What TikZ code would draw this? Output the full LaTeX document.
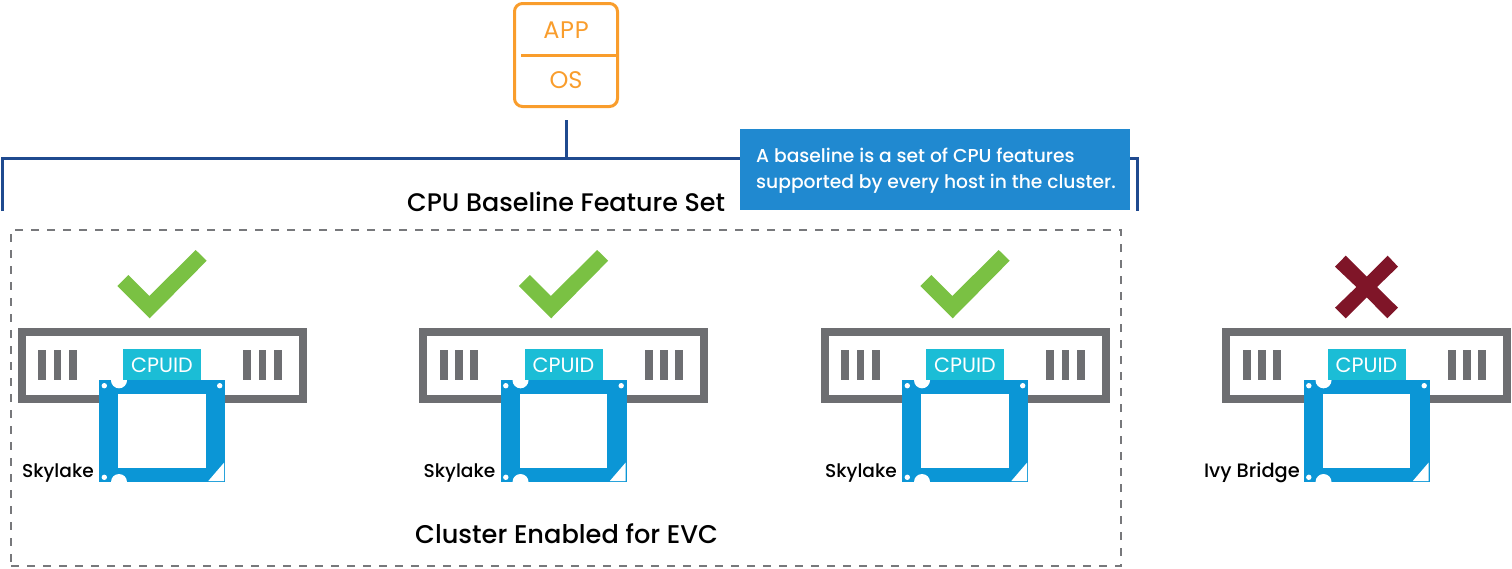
\documentclass[tikz,border=0pt]{standalone}
\usepackage{fontspec}
\setmainfont{Poppins}
\newfontfamily\medf{Poppins Medium}
\definecolor{orangeb}{HTML}{F99D2C}
\definecolor{bracketb}{HTML}{1F4A8F}
\definecolor{noteb}{HTML}{2089D0}
\definecolor{greyb}{HTML}{6D6E71}
\definecolor{dashg}{HTML}{77787B}
\definecolor{cyanb}{HTML}{1BBDD6}
\definecolor{chipb}{HTML}{0B96D6}
\definecolor{greenb}{HTML}{7AC143}
\definecolor{redb}{HTML}{7F1528}
\tikzset{
  x=1pt,y=-1pt,
  hostframe/.style={draw=greyb,line width=8pt,fill=white},
  slot/.style={fill=greyb},
  chipface/.style={fill=chipb,draw=none},
  blank/.style={fill=white,draw=none},
  cputext/.style={text=white,font=\fontsize{20.7}{20.7}\selectfont,inner sep=0pt},
  hostlabel/.style={text=black,font=\medf\fontsize{18.6}{18.6}\selectfont,anchor=base east,inner sep=0pt},
  headline/.style={text=black,font=\medf\fontsize{25.4}{25.4}\selectfont,anchor=base west,inner sep=0pt},
  bracketline/.style={draw=bracketb,line width=3pt},
  stacktext/.style={text=orangeb,font=\fontsize{24}{24}\selectfont,inner sep=0pt},
  notetext/.style={text=white,font=\medf\fontsize{18.7}{18.7}\selectfont,anchor=base west,inner sep=0pt},
}
\newcommand{\hostunit}[4]{%
\begin{scope}[xshift=#1pt]
  \draw[hostframe] (21.5,331.5) rectangle (302.5,399);
  \foreach \a in {38.3,53.5,68.8,243.4,258.5,273.8}{\fill[slot] (\a,350) rectangle ++(7.7,30);}
  \node[fill=cyanb,minimum width=78pt,minimum height=31pt,inner sep=0pt,outer sep=0pt,anchor=north west] (cpuid#3) at (123,349.2) {};
  \node[cputext,yshift=-1pt] at (cpuid#3.center) {CPUID};
  \fill[chipface] (99.3,380.3) rectangle (225,482);
  \fill[blank] (118,394.3) rectangle (205.7,468);
  \begin{scope}
    \clip (99.3,380.3) rectangle (225,482);
    \fill[blank] (119,380.3) circle (8);
    \fill[blank] (119,482) circle (8);
  \end{scope}
  \fill[blank] (104.3,385.7) circle (2.7);
  \fill[blank] (219.7,385.7) circle (2.7);
  \fill[blank] (104.3,477.3) circle (2.7);
  \fill[blank] (224,462.7) -- (224,481) -- (208.3,481) -- cycle;
  \node[hostlabel] (lab#3) at (#4,477) {#2};
\end{scope}}
\newcommand{\tickmark}[1]{\fill[greenb,xshift=#1pt] (117.3,286) -- (128.3,275) -- (149.3,296) -- (195.7,250) -- (206.7,260.7) -- (149.7,318.3) -- cycle;}
\begin{document}
\begin{tikzpicture}
\useasboundingbox (0,0) rectangle (1512,568);
% dashed cluster
\node[draw=dashg,line width=1.6pt,dash pattern=on 8pt off 8pt,minimum width=1110pt,minimum height=336pt,inner sep=0pt,outer sep=0pt,anchor=north west] (cluster) at (11,230) {};
% VM
\node[draw=orangeb,line width=3pt,rounded corners=8pt,minimum width=103pt,minimum height=103pt,inner sep=0pt,outer sep=0pt,anchor=north west] (vm) at (514.5,3.5) {};
\coordinate (divl) at (521,55);
\draw[orangeb,line width=3pt] (divl) -- (divl -| vm.east);
\node[stacktext] (app) at (566,30) {\addfontfeature{LetterSpace=3}APP};
\node[stacktext] (os) at (566,80) {OS};
% bracket
\coordinate (stemtop) at (566.7,120);
\coordinate (stembot) at (566.7,158);
\coordinate (bl) at (2,211);
\coordinate (br) at (1137.5,211);
\draw[bracketline] (stemtop) -- (stembot);
\draw[bracketline] (bl) |- (br |- stembot) -- (br);
\node[headline] (base) at (407,211) {CPU Baseline Feature Set};
% note
\node[fill=noteb,minimum width=390pt,minimum height=81pt,inner sep=0pt,outer sep=0pt,anchor=north west] (note) at (740,129) {};
\node[notetext] (n1) at (756,162) {A baseline is a set of CPU features};
\node[notetext] (n2) at (756,188) {supported by every host in the cluster.};
% hosts
\hostunit{0}{Skylake}{a}{94}
\hostunit{401.5}{Skylake}{b}{94}
\hostunit{803}{Skylake}{c}{94}
\hostunit{1204.5}{\fontsize{19.4}{19.4}\selectfont Ivy Bridge}{d}{95.5}
\tickmark{0}
\tickmark{401.5}
\tickmark{803}
\fill[redb] (1335,266.7) -- (1345.7,255.7) -- (1366.7,276.7) -- (1387.7,255.7) -- (1398,266.7) -- (1377,287) -- (1398,307.7) -- (1387.3,318.3) -- (1366.7,297.3) -- (1345.7,318.3) -- (1335,307.7) -- (1356.4,287) -- cycle;
\node[headline,font=\medf\fontsize{25.65}{25.65}\selectfont] (clu) at (415,543) {Cluster Enabled for EVC};
\end{tikzpicture}
\end{document}
